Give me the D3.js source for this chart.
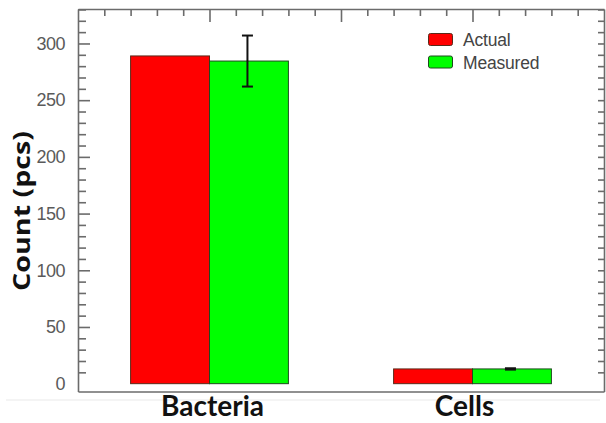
<!DOCTYPE html>
<html><head><meta charset="utf-8">
<script src="https://cdn.jsdelivr.net/npm/d3@7"></script>
<style>body{margin:0;background:#fff}svg{display:block}</style>
</head><body><svg id="c" width="606" height="423"></svg>
<script>
const categories = ["Bacteria", "Cells"];
const categoryPos = [1, 3];
const seriesNames = ["Actual", "Measured"];
const actualValues = [289, 13];
const measuredValues = [284.5, 13];
const measuredErrors = [22.5, 0.6];
const yTickLabels = ["0", "50", "100", "150", "200", "250", "300"];
const yTickValues = [0, 50, 100, 150, 200, 250, 300];
const colors = ["#ff0000", "#00ff00"];
const strokes = ["#5a2a1a", "#1e4a1e"];

const svg = d3.select("#c");
const L = 78, R = 604, T = 9, B = 391.5;
const x = d3.scaleLinear().domain([0, 4]).range([L, R]);
const y = d3.scaleLinear().domain([-6.9, 330.4]).range([B, T]);
const barW = 0.6;

// faint baseline artifact
svg.append("line").attr("x1", 6).attr("x2", 600).attr("y1", 400).attr("y2", 400)
  .attr("stroke", "#f1f1f1").attr("stroke-width", 1.5);

// bars
const series = [actualValues, measuredValues];
series.forEach((vals, si) => {
  svg.append("g").selectAll("rect").data(vals).join("rect")
    .attr("x", (d, i) => x(categoryPos[i] + (si === 0 ? -barW : 0)))
    .attr("width", x(barW) - x(0))
    .attr("y", d => y(d))
    .attr("height", d => y(0) - y(d))
    .attr("fill", colors[si])
    .attr("stroke", strokes[si]).attr("stroke-width", 1);
});

// error bars
const eg = svg.append("g").attr("stroke", "#111").attr("stroke-width", 2);
measuredValues.forEach((v, i) => {
  const cx = x(categoryPos[i] + barW / 2) - 1.5;
  const e = measuredErrors[i];
  eg.append("line").attr("x1", cx).attr("x2", cx).attr("y1", y(v + e)).attr("y2", y(v - e));
  eg.append("line").attr("x1", cx - 5.5).attr("x2", cx + 5.5).attr("y1", y(v + e)).attr("y2", y(v + e));
  eg.append("line").attr("x1", cx - 5.5).attr("x2", cx + 5.5).attr("y1", y(v - e)).attr("y2", y(v - e));
});

// frame axes
const axisColor = "#6b6b6b";
const yMinor = d3.range(10, 331, 10);
const xMinor = d3.range(0.2, 4, 0.2).map(v => +v.toFixed(2));
const isMajorY = v => v % 50 === 0;
const isMajorX = v => Math.abs(v - Math.round(v)) < 1e-6;

const leftAxis = d3.axisRight(y).tickValues(yMinor).tickFormat("")
  .tickSize(8).tickSizeOuter(0);
const gl = svg.append("g").attr("transform", `translate(${L},0)`).call(leftAxis);
const rightAxis = d3.axisLeft(y).tickValues(yMinor).tickFormat("").tickSize(6).tickSizeOuter(0);
const gr = svg.append("g").attr("transform", `translate(${R},0)`).call(rightAxis);
const topAxis = d3.axisBottom(x).tickValues(xMinor).tickFormat("").tickSize(7).tickSizeOuter(0);
const gt = svg.append("g").attr("transform", `translate(0,${T})`).call(topAxis);
const bottomAxis = d3.axisTop(x).tickValues([]).tickSizeOuter(0);
const gb = svg.append("g").attr("transform", `translate(0,${B})`).call(bottomAxis);

gl.selectAll(".tick line").attr("x2", d => isMajorY(d) ? 12 : 8);
gt.selectAll(".tick line").attr("y2", d => isMajorX(d) ? 13 : 7);
[gl, gr, gt, gb].forEach(g => {
  g.selectAll("path, line").attr("stroke", axisColor).attr("stroke-width", 1.6);
});

// y tick labels
const labelAxis = d3.axisLeft(y).tickValues(yTickValues)
  .tickFormat((d, i) => yTickLabels[i]).tickSize(0).tickPadding(13);
const gLab = svg.append("g").attr("transform", `translate(${L},0)`).call(labelAxis);
gLab.select(".domain").remove();
gLab.selectAll("text").attr("font-family", "Liberation Sans, Arial, sans-serif")
  .attr("font-size", 18).attr("fill", "#5a5a5a").attr("letter-spacing", -0.5);

// category labels
svg.append("g").selectAll("text").data(categories).join("text")
  .attr("x", (d, i) => x(categoryPos[i]) + (i === 0 ? 3 : -8))
  .attr("y", 415.5)
  .attr("text-anchor", "middle")
  .attr("font-family", "Lato, Open Sans, sans-serif").attr("font-weight", "bold")
  .attr("font-size", 28).attr("fill", "#111")
  .text(d => d);

// y title
svg.append("text").attr("transform", `translate(30,211) rotate(-90)`)
  .attr("text-anchor", "middle")
  .attr("font-family", "Open Sans, Lato, sans-serif").attr("font-weight", "bold")
  .attr("font-size", 24).attr("fill", "#111")
  .attr("textLength", 160).attr("lengthAdjust", "spacingAndGlyphs")
  .text("Count (pcs)");

// legend
const lg = svg.append("g");
seriesNames.forEach((n, i) => {
  const yy = 33.5 + i * 22.5;
  lg.append("rect").attr("x", 428.5).attr("y", yy).attr("width", 24).attr("height", 12)
    .attr("rx", 2).attr("fill", colors[i]).attr("stroke", strokes[i]).attr("stroke-width", 1);
  lg.append("text").attr("x", 463).attr("y", yy + 12.5)
    .attr("font-family", "Liberation Sans, Arial, sans-serif").attr("font-size", 17.5)
    .attr("fill", "#444").attr("letter-spacing", -0.2).text(n);
});
</script></body></html>
